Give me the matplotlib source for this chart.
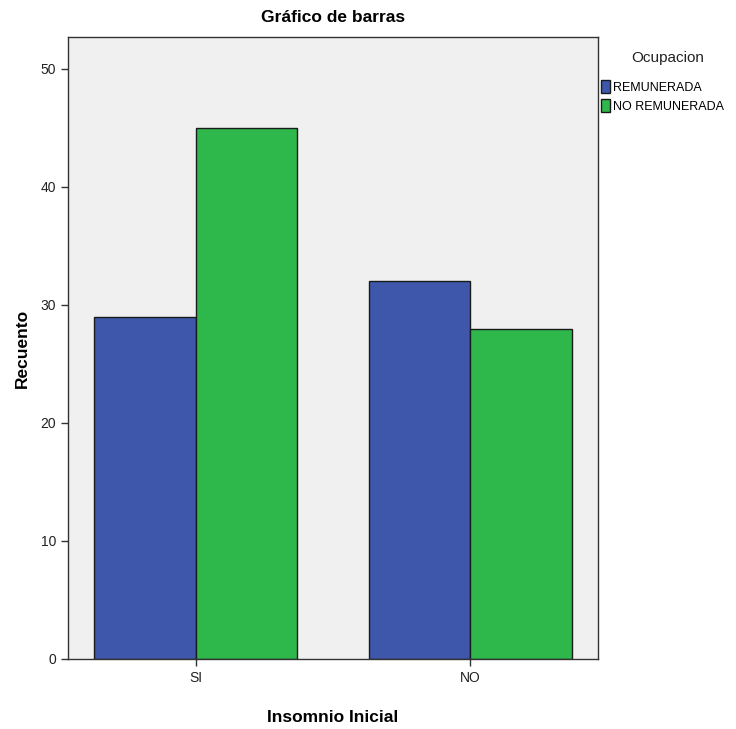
import matplotlib
matplotlib.use("Agg")
import matplotlib.pyplot as plt
import numpy as np
from matplotlib.patches import Patch

categories = ["SI", "NO"]
series_names = ["REMUNERADA", "NO REMUNERADA"]
remunerada = [29, 32]
no_remunerada = [45, 28]
colors = ["#3e57ab", "#2eb84b"]

plt.rcParams['font.family'] = ['Liberation Sans Narrow', 'Liberation Sans', 'DejaVu Sans']

fig = plt.figure(figsize=(7.36, 7.29), dpi=100)
ax = fig.add_axes([68/736, 1-659/729, (598-68)/736, (659-37)/729])
ax.set_facecolor("#f0f0f0")

x = np.arange(len(categories))
w = 0.369
ax.bar(x - w/2, remunerada, w, color=colors[0], edgecolor="#1a1a1a", linewidth=1.0, zorder=2)
ax.bar(x + w/2, no_remunerada, w, color=colors[1], edgecolor="#1a1a1a", linewidth=1.0, zorder=2)

ax.set_xlim(-0.465, 1.465)
ax.set_ylim(0, 52.7)
ax.set_yticks([0, 10, 20, 30, 40, 50])
ax.set_xticks(x)
ax.set_xticklabels(categories)
ax.tick_params(axis='both', labelsize=10, length=5, width=1, color="#333333",
               labelcolor="#222222", direction='out')
for s in ax.spines.values():
    s.set_color("#333333")
    s.set_linewidth(1.0)

fig.text(333/736, 1-18/729, "Gráfico de barras", ha='center', va='center', fontsize=12.5, fontweight='bold')
ax.set_ylabel("Recuento", fontsize=12.5, fontweight='bold', labelpad=8)
ax.set_xlabel("Insomnio Inicial", fontsize=12.5, fontweight='bold', labelpad=18)

fig.text(668/736, 1-58/729, "Ocupacion", ha='center', va='center', fontsize=11, color="#222222")
handles = [Patch(facecolor=colors[i], edgecolor="#1a1a1a", label=series_names[i]) for i in range(2)]
leg = fig.legend(handles=handles, loc='upper left',
                 bbox_to_anchor=(601/736, 1-80/729), frameon=False, fontsize=9,
                 handlelength=0.75, handleheight=1.2, handletextpad=0.2,
                 labelspacing=0.45, borderaxespad=0, borderpad=0)

fig.savefig("out.png", dpi=100)
